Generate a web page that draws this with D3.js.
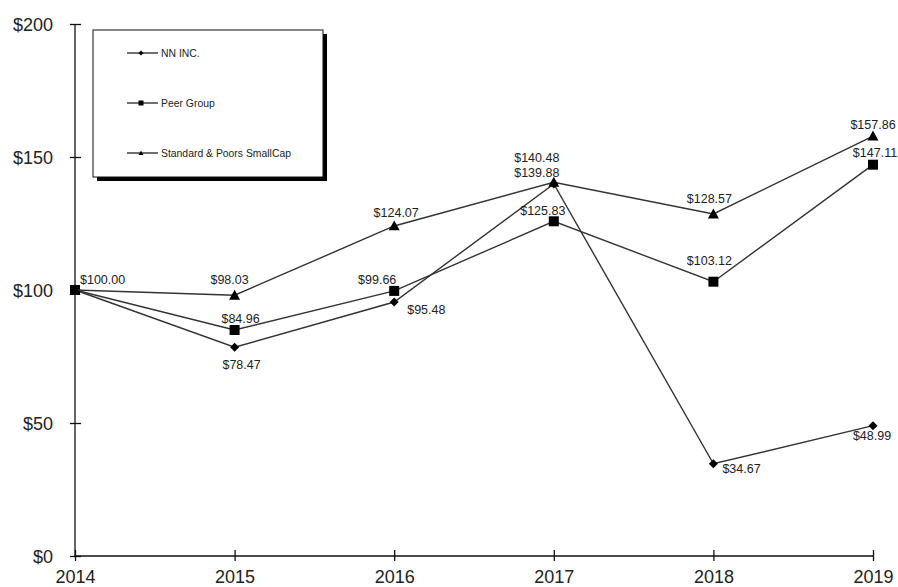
<!DOCTYPE html>
<html><head><meta charset="utf-8">
<script src="https://cdn.jsdelivr.net/npm/d3@7"></script>
<style>body{margin:0;background:#fff}svg{display:block}text{font-family:"Liberation Sans",Arial,sans-serif;fill:#222}</style>
</head><body><svg id="c" width="898" height="587"></svg>
<script>
const years = ["2014","2015","2016","2017","2018","2019"];
const nnInc = [100.00, 78.47, 95.48, 139.88, 34.67, 48.99];
const peerGroup = [100.00, 84.96, 99.66, 125.83, 103.12, 147.11];
const spSmallCap = [100.00, 98.03, 124.07, 140.48, 128.57, 157.86];
const yTicks = [0, 50, 100, 150, 200];
const seriesNames = ["NN INC.", "Peer Group", "Standard & Poors SmallCap"];

// label placement: [dx, dy, anchor] per point
const labelPlace = [
  [[5,-6,"start"],[7,22,"middle"],[13,12,"start"],[-17,-7,"middle"],[9,9,"start"],[-1,14,"middle"]],
  [null,[6,-7,"middle"],[-17,-7,"middle"],[-11,-6,"middle"],[-4,-17,"middle"],[2,-8,"middle"]],
  [null,[-5,-11,"middle"],[2,-9,"middle"],[-17,-20,"middle"],[-4,-11,"middle"],[0,-7,"middle"]]
];

const svg = d3.select("#c");
const x = d3.scalePoint().domain(years).range([75, 873]);
const y = d3.scaleLinear().domain([0, 200]).range([556, 24]);

// axes
const yAxis = svg.append("g").attr("transform","translate(75,0)")
  .call(d3.axisLeft(y).tickValues(yTicks).tickSize(5).tickPadding(17).tickFormat(d => "$" + d));
yAxis.selectAll(".tick line").attr("x2", 6).attr("x1",-5);
yAxis.select(".domain").attr("d","M0,24V556");
yAxis.selectAll("text").style("font-size","18px").attr("dy","0.35em");

const xAxis = svg.append("g").attr("transform","translate(0,556)")
  .call(d3.axisBottom(x).tickSize(5).tickPadding(9));
xAxis.selectAll(".tick line").attr("y1",-6).attr("y2",5);
xAxis.select(".domain").attr("d","M75,0H873");
xAxis.selectAll("text").style("font-size","18px");
svg.selectAll(".domain, .tick line").attr("stroke","#111").attr("stroke-width",1.3);

const series = [nnInc, peerGroup, spSmallCap];
const line = d3.line().x((d,i) => x(years[i])).y(d => y(d));

function marker(g, type, cx, cy, s) {
  if (type === 0) {
    g.append("path").attr("d", `M${cx},${cy-s}L${cx+s},${cy}L${cx},${cy+s}L${cx-s},${cy}Z`).attr("fill","#000");
  } else if (type === 1) {
    g.append("rect").attr("x",cx-s).attr("y",cy-s).attr("width",2*s).attr("height",2*s).attr("fill","#000");
  } else {
    g.append("path").attr("d", `M${cx},${cy-s}L${cx+s},${cy+s*0.8}L${cx-s},${cy+s*0.8}Z`).attr("fill","#000");
  }
}
const msize = [4.5, 5, 5.5];

series.forEach((data, si) => {
  const g = svg.append("g");
  g.append("path").attr("d", line(data)).attr("fill","none").attr("stroke","#333").attr("stroke-width",1.4);
  data.forEach((v, i) => marker(g, si, x(years[i]), y(v), msize[si]));
});

// labels
series.forEach((data, si) => {
  data.forEach((v, i) => {
    const p = labelPlace[si][i];
    if (!p) return;
    svg.append("text").attr("x", x(years[i]) + p[0]).attr("y", y(v) + p[1])
      .attr("text-anchor", p[2]).style("font-size","12.5px").text("$" + v.toFixed(2));
  });
});

// legend
const lg = svg.append("g");
lg.append("rect").attr("x",97).attr("y",34).attr("width",230).attr("height",147).attr("fill","#000");
lg.append("rect").attr("x",93).attr("y",30).attr("width",230).attr("height",147).attr("fill","#fff").attr("stroke","#111").attr("stroke-width",1);
seriesNames.forEach((n, si) => {
  const ly = 53 + si * 50;
  lg.append("line").attr("x1",127).attr("x2",158).attr("y1",ly).attr("y2",ly).attr("stroke","#111").attr("stroke-width",1.2);
  marker(lg, si, 141, ly, 2.5);
  lg.append("text").attr("x",161).attr("y",ly).attr("dy","0.35em").style("font-size","10.4px").text(n);
});
</script></body></html>
